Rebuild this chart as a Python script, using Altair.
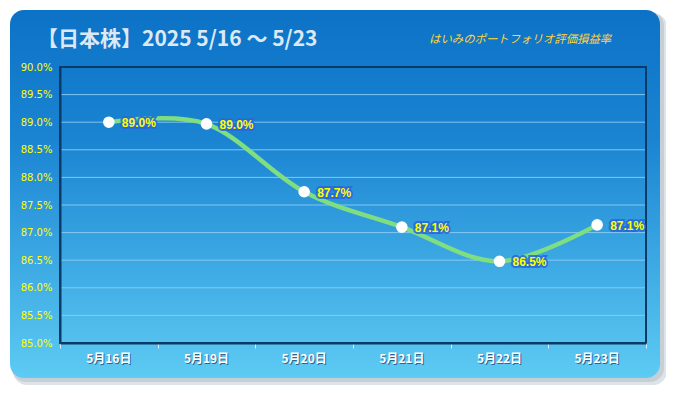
import altair as alt
import pandas as pd

dates = ["5月16日", "5月19日", "5月20日", "5月21日", "5月22日", "5月23日"]
values = [89.00, 88.97, 87.74, 87.10, 86.48, 87.14]
labels = ["89.0%", "89.0%", "87.7%", "87.1%", "86.5%", "87.1%"]
y_ticks = [85.0, 85.5, 86.0, 86.5, 87.0, 87.5, 88.0, 88.5, 89.0, 89.5, 90.0]
title_text = "【日本株】2025 5/16 ～ 5/23"
subtitle_text = "はいみのポートフォリオ評価損益率"

W, H = 586, 276

df = pd.DataFrame({"date": dates, "value": values, "label": labels})
grid_df = pd.DataFrame({"v": y_ticks})
one = pd.DataFrame({"k": [0]})

xs = alt.Scale(domain=dates, paddingInner=0, paddingOuter=0)
ys = alt.Scale(domain=[85, 90], nice=False, zero=False)

xaxis = alt.Axis(labels=False, tickColor="#D8EEFA", tickSize=5, tickBand="extent",
                 domainColor="#0B3A66", domainWidth=2, zindex=1)
yaxis = alt.Axis(values=y_ticks, labelExpr="format(datum.value, '.1f') + '%'",
                 labelColor="#FFFF00", labelFont="DejaVu Sans", labelFontSize=10,
                 labelPadding=8, ticks=False, grid=False,
                 domainColor="#0B3A66", domainWidth=2, zindex=1)

card_grad = alt.Gradient(
    gradient="linear", x1=0, x2=0, y1=0, y2=1,
    stops=[alt.GradientStop(color="#0C72C6", offset=0),
           alt.GradientStop(color="#1A84D2", offset=0.35),
           alt.GradientStop(color="#5DCBF3", offset=1)],
)

shadow1 = alt.Chart(one).mark_rect(cornerRadius=14, fill="#D6DCE2", opacity=0.8).encode(
    x=alt.value(-47), x2=alt.value(607), y=alt.value(-54), y2=alt.value(318))
shadow2 = alt.Chart(one).mark_rect(cornerRadius=14, fill="#C4CCD4", opacity=0.9).encode(
    x=alt.value(-48), x2=alt.value(604), y=alt.value(-55), y2=alt.value(315))
card = alt.Chart(one).mark_rect(cornerRadius=14, fill=card_grad).encode(
    x=alt.value(-50), x2=alt.value(600), y=alt.value(-57), y2=alt.value(311))

grid = alt.Chart(grid_df).mark_rule(color="#8CCDF5", strokeWidth=1, opacity=0.9).encode(
    y=alt.Y("v:Q", scale=ys, axis=yaxis, title=None), x=alt.value(0), x2=alt.value(W))

border = alt.Chart(one).mark_rect(fill=None, stroke="#0B3A66", strokeWidth=2).encode(
    x=alt.value(0), x2=alt.value(W), y=alt.value(0), y2=alt.value(H))

base = alt.Chart(df).encode(
    x=alt.X("date:N", sort=dates, scale=xs, title=None, axis=xaxis),
    y=alt.Y("value:Q", scale=ys, title=None, axis=yaxis),
)

xshadow = base.mark_text(
    font="Noto Sans CJK JP", fontWeight="bold", fontSize=12, color="#1D4E7A",
    dx=1, dy=1, baseline="top", opacity=0.8).encode(y=alt.value(H + 11), text="date:N")
xlab = base.mark_text(
    font="Noto Sans CJK JP", fontWeight="bold", fontSize=12, color="white",
    baseline="top").encode(y=alt.value(H + 11), text="date:N")

line = base.mark_line(interpolate="cardinal", color="#7FDE80", strokeWidth=4.5)
points = base.mark_circle(size=135, color="white", opacity=1)
glow = base.mark_text(align="left", baseline="middle", dx=13, dy=1, font="Liberation Sans",
                      fontWeight="bold", fontSize=12, color="#2767DA", stroke="#2767DA",
                      strokeWidth=4, strokeOpacity=0.85).encode(text="label:N")
lab = base.mark_text(align="left", baseline="middle", dx=13, dy=1, font="Liberation Sans",
                     fontWeight="bold", fontSize=12, color="#FFFF00").encode(text="label:N")

title = alt.Chart(one).mark_text(
    text=title_text, font="Noto Sans CJK JP", fontWeight="bold", fontSize=21,
    color="#DCE9F5", align="left", baseline="middle").encode(
    x=alt.value(-23), y=alt.value(-27))
subtitle = alt.Chart(one).mark_text(
    text=subtitle_text, font="Noto Sans CJK JP", fontStyle="italic", fontSize=11.4,
    color="#FFD53A", align="left", baseline="middle").encode(
    x=alt.value(369), y=alt.value(-27))

chart = alt.layer(
    shadow1, shadow2, card, grid, border, xshadow, xlab, line, points, glow, lab,
    title, subtitle
).properties(
    width=W, height=H,
    autosize=alt.AutoSizeParams(type="none"),
    padding={"left": 52, "top": 59, "right": 20, "bottom": 48},
).configure_view(stroke=None, fill=None).configure(background="white")

chart.save("out.html", embed_options={"renderer": "svg", "actions": False})
